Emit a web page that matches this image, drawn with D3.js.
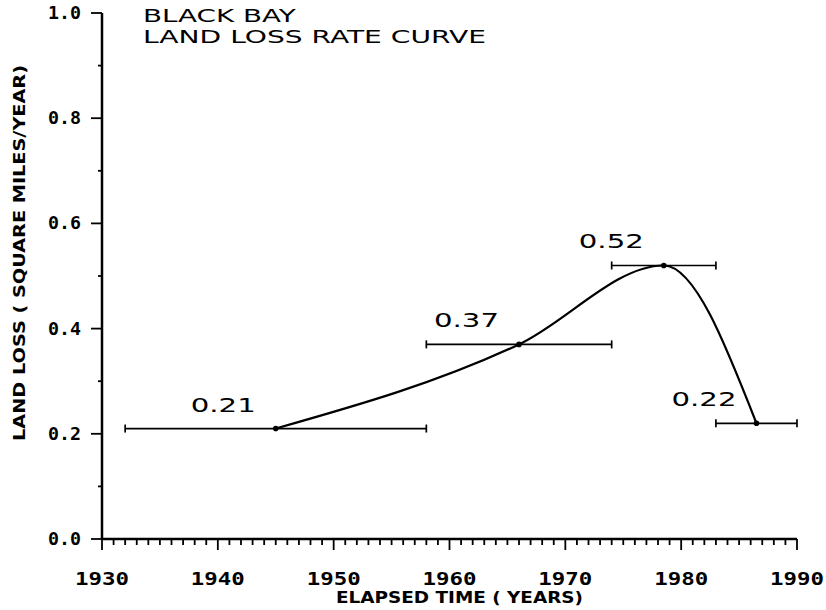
<!DOCTYPE html>
<html lang="en">
<head>
  <meta charset="UTF-8">
  <title>Black Bay Land Loss Rate Curve</title>
  <script src="https://d3js.org/d3.v7.min.js"></script>
  <style>
    body, html {
      margin: 0;
      background-color: #fff;
    }
    svg text {
      fill: #000;
    }
    .tick-label {
      font-family: 'DejaVu Sans Mono', monospace;
      font-weight: bold;
      font-size: 17px;
    }
    .plot-text {
      font-family: 'DejaVu Sans', sans-serif;
      font-size: 20px;
    }
    .title-text {
      font-family: 'DejaVu Sans', sans-serif;
      font-size: 17.5px;
    }
    .axis-title {
      font-family: 'DejaVu Sans', sans-serif;
      font-weight: bold;
      font-size: 16px;
    }
  </style>
</head>
<body>
<svg id="chart" width="826" height="610"></svg>

<script>
  // data
  const midYears = [1945, 1966, 1978.5, 1986.5];
  const lossRates = [0.21, 0.37, 0.52, 0.22];
  const spanStart = [1932, 1958, 1974, 1983];
  const spanEnd = [1958, 1974, 1983, 1990];
  const rateLabels = ["0.21", "0.37", "0.52", "0.22"];

  const yTicks = [0, 0.2, 0.4, 0.6, 0.8, 1.0];
  const yTickLabels = ["0.0", "0.2", "0.4", "0.6", "0.8", "1.0"];
  const xTicks = [1930, 1940, 1950, 1960, 1970, 1980, 1990];

  const titleLines = ["BLACK BAY", "LAND LOSS RATE CURVE"];
  const xTitle = "ELAPSED TIME ( YEARS)";
  const yTitle = "LAND LOSS ( SQUARE MILES/YEAR)";

  const svg = d3.select("#chart");

  const x = d3.scaleLinear().domain([1930, 1990]).range([102, 797]);
  const y = d3.scaleLinear().domain([0, 1]).range([539, 13]);

  const axes = svg.append("g")
          .attr("stroke", "#000")
          .attr("fill", "none");

  // axis lines
  axes.append("line")
          .attr("x1", x(1930)).attr("x2", x(1930))
          .attr("y1", y(1)).attr("y2", y(0))
          .attr("stroke-width", 2.5);
  axes.append("line")
          .attr("x1", x(1930)).attr("x2", x(1990))
          .attr("y1", y(0)).attr("y2", y(0))
          .attr("stroke-width", 2.5);

  // y ticks, every 0.1, long ones every 0.2
  const yMinor = d3.range(0, 11).map(d => d / 10);
  axes.selectAll(".ytick")
          .data(yMinor)
          .join("line")
          .attr("x1", d => x(1930) - (Math.round(d * 10) % 2 === 0 ? 11 : 4))
          .attr("x2", x(1930))
          .attr("y1", d => y(d)).attr("y2", d => y(d))
          .attr("stroke-width", 1.8);

  // x ticks, every year, long ones every 10
  const xMinor = d3.range(1930, 1991);
  axes.selectAll(".xtick")
          .data(xMinor)
          .join("line")
          .attr("x1", d => x(d)).attr("x2", d => x(d))
          .attr("y1", y(0))
          .attr("y2", d => y(0) + (d % 10 === 0 ? 11 : 6))
          .attr("stroke-width", 1.8);

  svg.selectAll(".ylab")
          .data(yTicks)
          .join("text")
          .attr("class", "tick-label")
          .attr("x", 81)
          .attr("y", d => y(d) + 6)
          .attr("text-anchor", "end")
          .attr("textLength", 33)
          .attr("lengthAdjust", "spacingAndGlyphs")
          .text((d, i) => yTickLabels[i]);

  svg.selectAll(".xlab")
          .data(xTicks)
          .join("text")
          .attr("class", "tick-label")
          .attr("x", d => x(d) - 27)
          .attr("y", 585)
          .attr("textLength", 54)
          .attr("lengthAdjust", "spacingAndGlyphs")
          .text(d => d);

  svg.append("text")
          .attr("class", "axis-title")
          .attr("x", 336)
          .attr("y", 603)
          .attr("textLength", 247)
          .attr("lengthAdjust", "spacingAndGlyphs")
          .text(xTitle);

  svg.append("text")
          .attr("class", "axis-title")
          .attr("transform", "translate(25,441) rotate(-90)")
          .attr("textLength", 376)
          .attr("lengthAdjust", "spacingAndGlyphs")
          .text(yTitle);

  svg.selectAll(".title")
          .data(titleLines)
          .join("text")
          .attr("class", "title-text")
          .attr("x", 143)
          .attr("y", (d, i) => 22 + i * 21)
          .attr("textLength", d => d.length * 17.3 - 3)
          .attr("lengthAdjust", "spacingAndGlyphs")
          .text(d => d);

  // horizontal spans with end caps
  const bars = svg.append("g").attr("stroke", "#000").attr("stroke-width", 1.7);
  bars.selectAll(".span")
          .data(midYears)
          .join("line")
          .attr("x1", (d, i) => x(spanStart[i]))
          .attr("x2", (d, i) => x(spanEnd[i]))
          .attr("y1", (d, i) => y(lossRates[i]))
          .attr("y2", (d, i) => y(lossRates[i]));
  bars.selectAll(".capL")
          .data(midYears)
          .join("line")
          .attr("x1", (d, i) => x(spanStart[i])).attr("x2", (d, i) => x(spanStart[i]))
          .attr("y1", (d, i) => y(lossRates[i]) - 4)
          .attr("y2", (d, i) => y(lossRates[i]) + 4);
  bars.selectAll(".capR")
          .data(midYears)
          .join("line")
          .attr("x1", (d, i) => x(spanEnd[i])).attr("x2", (d, i) => x(spanEnd[i]))
          .attr("y1", (d, i) => y(lossRates[i]) - 4)
          .attr("y2", (d, i) => y(lossRates[i]) + 4);

  // smooth rate curve
  const pts = midYears.map((d, i) => [d, lossRates[i]]);
  const curve = d3.line()
          .x(d => x(d[0]))
          .y(d => y(d[1]))
          .curve(d3.curveMonotoneX);

  svg.append("path")
          .datum(pts)
          .attr("fill", "none")
          .attr("stroke", "#000")
          .attr("stroke-width", 2.2)
          .attr("d", curve);

  svg.selectAll(".pt")
          .data(pts)
          .join("circle")
          .attr("cx", d => x(d[0]))
          .attr("cy", d => y(d[1]))
          .attr("r", 2.8)
          .attr("fill", "#000");

  svg.selectAll(".rate")
          .data(pts)
          .join("text")
          .attr("class", "plot-text")
          .attr("x", d => x(d[0]) - 85)
          .attr("y", d => y(d[1]) - 17)
          .attr("textLength", 65)
          .attr("lengthAdjust", "spacingAndGlyphs")
          .text((d, i) => rateLabels[i]);
</script>
</body>
</html>
